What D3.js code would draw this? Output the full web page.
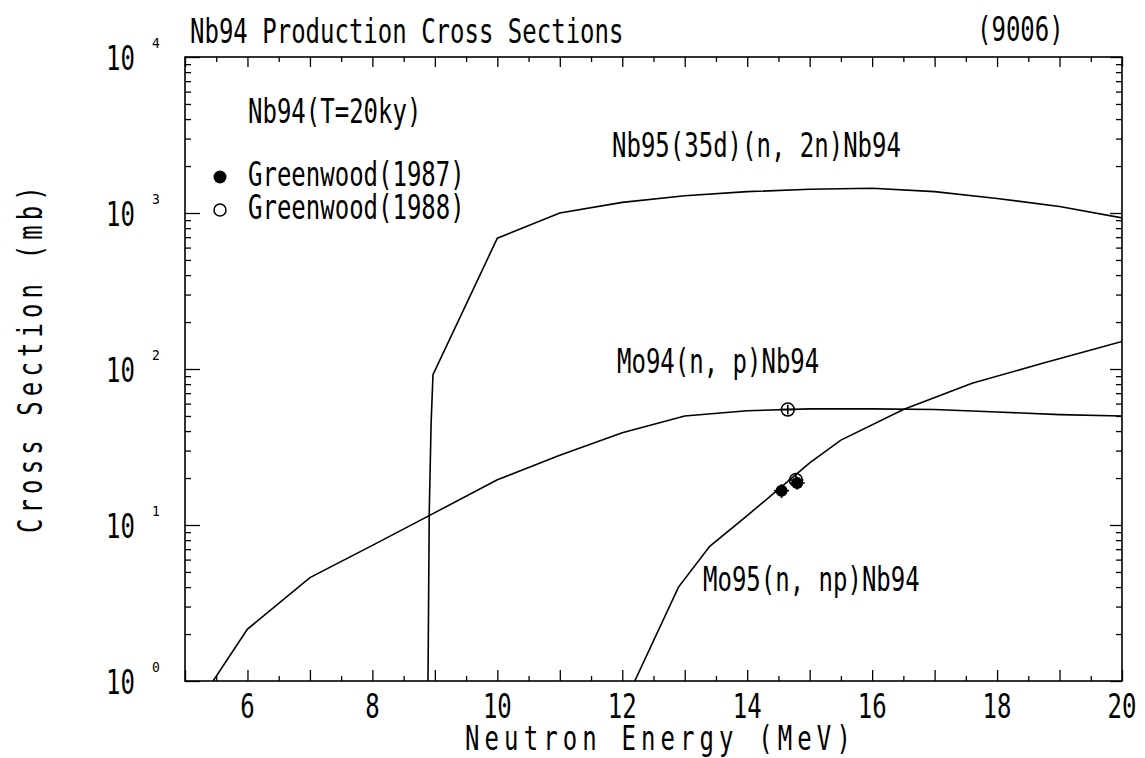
<!DOCTYPE html>
<html>
<head>
<meta charset="utf-8">
<script src="https://cdn.jsdelivr.net/npm/d3@7"></script>
<style>
  html, body { margin: 0; padding: 0; background: #fff; }
  svg text { font-family: "DejaVu Sans Mono", "Liberation Mono", monospace; fill: #000; }
</style>
</head>
<body>
<svg id="chart" width="1145" height="758"></svg>
<script>
// ---------------- data ----------------
const titleText = "Nb94 Production Cross Sections";
const idText = "(9006)";
const xTitle = "Neutron Energy (MeV)";
const yTitle = "Cross Section (mb)";
const legendTitle = "Nb94(T=20ky)";
const legendLabels = ["Greenwood(1987)", "Greenwood(1988)"];

const xTickValues = [6, 8, 10, 12, 14, 16, 18, 20];
const yDecades = [1, 10, 100, 1000, 10000];
const yExponents = ["0", "1", "2", "3", "4"];

// Nb95(35d)(n,2n)Nb94
const n2nE  = [8.89, 8.91, 8.94, 8.97, 10.0, 11.0, 12.0, 13.0, 14.0, 15.0, 16.0, 17.0, 18.0, 19.0, 20.0];
const n2nXS = [1.0, 12, 45, 92, 690, 1000, 1170, 1290, 1370, 1420, 1440, 1370, 1240, 1100, 930];

// Mo94(n,p)Nb94
const npE  = [5.45, 6.0, 7.0, 8.0, 9.0, 10.0, 11.0, 12.0, 13.0, 14.0, 15.0, 16.0, 17.0, 18.0, 19.0, 20.0];
const npXS = [1.0, 2.15, 4.6, 7.4, 12, 19.5, 28, 39, 50, 54, 55.5, 55.5, 55, 53, 51, 50];

// Mo95(n,np)Nb94
const nnpE  = [12.2, 12.9, 13.4, 14.0, 14.5, 15.0, 15.5, 16.5, 17.6, 18.7, 20.0];
const nnpXS = [1.0, 4.0, 7.3, 11.5, 16.9, 25, 35, 55, 81, 108, 150];

const curveLabels = ["Nb95(35d)(n, 2n)Nb94", "Mo94(n, p)Nb94", "Mo95(n, np)Nb94"];

// measured points
const gw1987E = [14.55, 14.8];
const gw1987XS = [16.6, 18.6];
const gw1987Err = [1.7, 1.8];
const gw1988E = [14.65, 14.78];
const gw1988XS = [55, 19.4];
const gw1988Err = [4, 1.8];

// ---------------- drawing ----------------
const svg = d3.select("#chart");
const x = d3.scaleLinear().domain([5, 20]).range([185, 1122]);
const y = d3.scaleLog().domain([1, 1e4]).range([681, 57]);
const SY = 1.43;   // vertical stretch of the plotter font

function txt(str, tx, ty, opts = {}) {
  const t = svg.append("text")
    .attr("transform", `translate(${tx},${ty})` + (opts.rotate ? ` rotate(${opts.rotate})` : "") + ` scale(1,${opts.sy || SY})`)
    .attr("font-size", opts.size || 24)
    .attr("text-anchor", opts.anchor || "start")
    .text(str);
  if (opts.spacing) t.attr("letter-spacing", opts.spacing);
  return t;
}

// clip
svg.append("defs").append("clipPath").attr("id", "plot")
  .append("rect").attr("x", 185).attr("y", 57).attr("width", 1122 - 185).attr("height", 681 - 57);

// axes ticks (inward)
const xMajor = d3.range(5, 20.01, 1);
const xMinor = d3.range(5.5, 20, 1);
const yMinor = [];
[1, 10, 100, 1000].forEach(d => { for (let k = 2; k <= 9; k++) yMinor.push(d * k); });

function styleAxis(g) {
  g.selectAll(".domain").remove();
  g.selectAll("line").attr("stroke", "#000").attr("stroke-width", 1.3);
  g.selectAll("text").remove();
}
svg.append("g").attr("transform", "translate(0,681)")
  .call(d3.axisBottom(x).tickValues(xMajor).tickSize(-11).tickFormat("")).call(styleAxis);
svg.append("g").attr("transform", "translate(0,681)")
  .call(d3.axisBottom(x).tickValues(xMinor).tickSize(-5).tickFormat("")).call(styleAxis);
svg.append("g").attr("transform", "translate(0,57)")
  .call(d3.axisTop(x).tickValues(xMajor).tickSize(-10).tickFormat("")).call(styleAxis);
svg.append("g").attr("transform", "translate(0,57)")
  .call(d3.axisTop(x).tickValues(xMinor).tickSize(-5).tickFormat("")).call(styleAxis);
svg.append("g").attr("transform", "translate(185,0)")
  .call(d3.axisLeft(y).tickValues(yDecades).tickSize(-15).tickFormat("")).call(styleAxis);
svg.append("g").attr("transform", "translate(185,0)")
  .call(d3.axisLeft(y).tickValues(yMinor).tickSize(-6).tickFormat("")).call(styleAxis);
svg.append("g").attr("transform", "translate(1122,0)")
  .call(d3.axisRight(y).tickValues(yDecades).tickSize(-12).tickFormat("")).call(styleAxis);
svg.append("g").attr("transform", "translate(1122,0)")
  .call(d3.axisRight(y).tickValues(yMinor).tickSize(-6).tickFormat("")).call(styleAxis);

// frame
svg.append("rect").attr("x", 185).attr("y", 57).attr("width", 1122 - 185).attr("height", 681 - 57)
  .attr("fill", "none").attr("stroke", "#000").attr("stroke-width", 1.6);

// curves
const line = d3.line().x(d => x(d[0])).y(d => y(d[1]));
const curves = [
  d3.zip(n2nE, n2nXS),
  d3.zip(npE, npXS),
  d3.zip(nnpE, nnpXS)
];
svg.append("g").attr("clip-path", "url(#plot)")
  .selectAll("path").data(curves).join("path")
  .attr("d", line).attr("fill", "none").attr("stroke", "#000").attr("stroke-width", 1.6);

// measured points
const pts87 = gw1987E.map((e, i) => ({ e, v: gw1987XS[i], err: gw1987Err[i] }));
const pts88 = gw1988E.map((e, i) => ({ e, v: gw1988XS[i], err: gw1988Err[i] }));
const gp = svg.append("g");
[...pts87, ...pts88].forEach(p => {
  gp.append("line").attr("x1", x(p.e)).attr("x2", x(p.e))
    .attr("y1", y(p.v - p.err)).attr("y2", y(p.v + p.err))
    .attr("stroke", "#000").attr("stroke-width", 1.6);
  gp.append("line").attr("x1", x(p.e - 0.12)).attr("x2", x(p.e + 0.12))
    .attr("y1", y(p.v)).attr("y2", y(p.v))
    .attr("stroke", "#000").attr("stroke-width", 1.6);
});
gp.selectAll("circle.f").data(pts87).join("circle").attr("class", "f")
  .attr("cx", d => x(d.e)).attr("cy", d => y(d.v)).attr("r", 6).attr("fill", "#000");
gp.selectAll("circle.o").data(pts88).join("circle").attr("class", "o")
  .attr("cx", d => x(d.e)).attr("cy", d => y(d.v)).attr("r", 6.5)
  .attr("fill", "none").attr("stroke", "#000").attr("stroke-width", 1.5);

// x tick labels
xTickValues.forEach(v => txt(String(v), x(v), 718, { anchor: "middle" }));

// y tick labels
yDecades.forEach((v, i) => {
  txt("10", 135, y(v) + 12.5, { anchor: "end" });
  txt(yExponents[i], 152, y(v) - 9, { size: 13, sy: 1.1 });
});

// titles
txt(titleText, 190, 43);
txt(idText, 977, 41);
txt(xTitle, 465, 750, { spacing: 5.1 });
txt(yTitle, 42, 533, { rotate: -90, spacing: 5.1 });

// legend
txt(legendTitle, 248, 123);
svg.append("circle").attr("cx", 220).attr("cy", 177).attr("r", 6.5).attr("fill", "#000");
svg.append("circle").attr("cx", 220).attr("cy", 210).attr("r", 6).attr("fill", "none")
  .attr("stroke", "#000").attr("stroke-width", 1.5);
txt(legendLabels[0], 248, 186);
txt(legendLabels[1], 248, 219);

// curve labels
txt(curveLabels[0], 612, 157);
txt(curveLabels[1], 617, 373);
txt(curveLabels[2], 703, 591);
</script>
</body>
</html>
